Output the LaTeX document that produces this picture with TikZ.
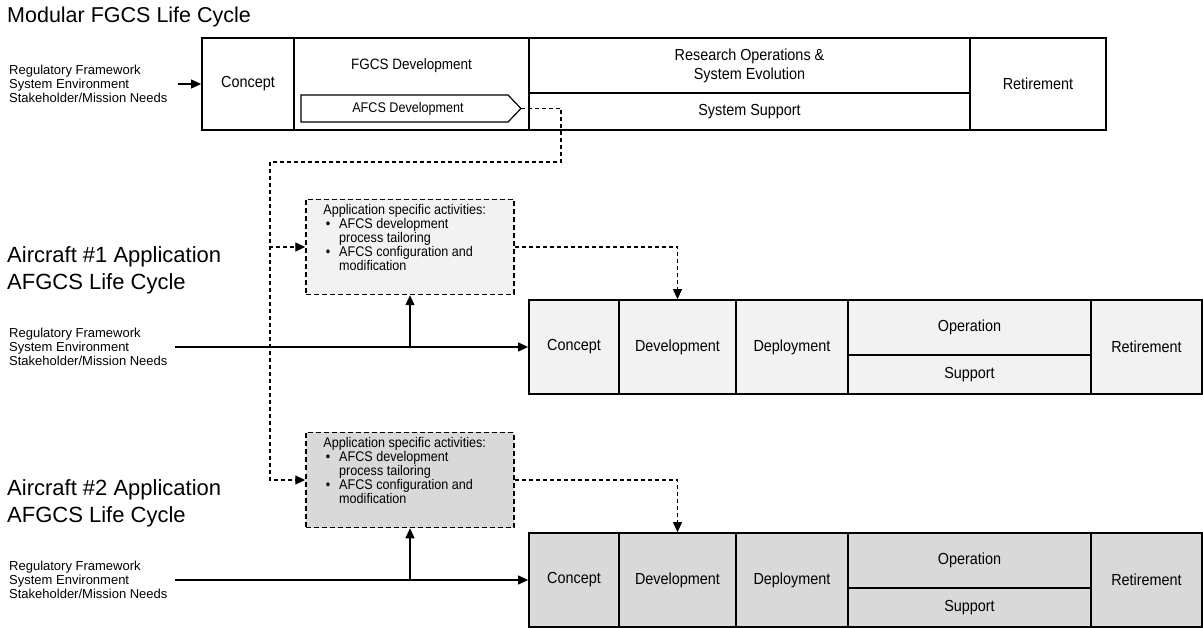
\documentclass[tikz,border=0pt]{standalone}
\usepackage{fontspec}
\setmainfont{Liberation Sans}
\newfontfamily\narrowfont[FakeStretch=0.9]{Liberation Sans}
\usetikzlibrary{arrows.meta,calc}
\begin{document}
\begin{tikzpicture}[x=1pt,y=-1pt,
  cell/.style={draw, line width=1.8pt, inner sep=0pt, align=center,
    font=\narrowfont\fontsize{16}{19}\selectfont},
  appbox/.style={draw, dashed, dash pattern=on 5pt off 3pt, line width=1.5pt,
    minimum width=208pt, minimum height=95pt, inner sep=0pt},
  apptext/.style={inner sep=0pt, anchor=north west, font=\narrowfont\fontsize{14}{13}\selectfont},
  inputs/.style={inner sep=0pt, anchor=west, align=left, font=\fontsize{13}{14.2}\selectfont},
  biglabel/.style={inner sep=0pt, anchor=west, align=left, font=\fontsize{22}{27}\selectfont},
  conn/.style={line width=1.2pt},
  dconn/.style={line width=1.1pt, dash pattern=on 4pt off 3pt},
  tri/.style={-{Triangle[length=10pt,width=9pt]}}]
\useasboundingbox (0,0) rectangle (1203,628);

% title
\node[biglabel, font=\fontsize{21.5}{24}\selectfont] (title) at (7,17) {Modular FGCS Life Cycle};

% modular FGCS life cycle
\node[cell, minimum width=92pt, minimum height=92pt] (tcon) at (248,84) {Concept};
\node[cell, minimum width=235pt, minimum height=92pt] (tdev) at (411.5,84) {};
\node[inner sep=0pt, font=\narrowfont\fontsize{15}{17}\selectfont] (tdevlabel) at (411.5,66) {FGCS Development};
\node[cell, minimum width=441pt, minimum height=55pt] (tops) at (749.5,65.5) {Research Operations \&\\System Evolution};
\node[cell, minimum width=441pt, minimum height=37pt] (tsup) at (749.5,111.5) {System Support};
\node[cell, minimum width=136pt, minimum height=92pt] (tret) at (1038,84) {Retirement};
\draw[line width=1.2pt] (301,95) -- (508,95) -- (521,108.5) -- (508,122) -- (301,122) -- cycle;
\node[inner sep=0pt, font=\narrowfont\fontsize{14}{15}\selectfont] (afcs) at (408,108.5) {AFCS Development};
\coordinate (afcstip) at (521,108.5);

\node[inputs] (in0) at (9,84) {Regulatory Framework\\System Environment\\Stakeholder/Mission Needs};
\coordinate (s0) at (178,84);
\draw[conn, tri] (s0) -- (tcon.west);

% application life cycles
\foreach \n/\cy/\fc in {1/347/black!5, 2/580/black!15} {
  \node[biglabel] (lab\n) at (7,\cy-77) {Aircraft \#\n{} Application\\AFGCS Life Cycle};
  \node[inputs] (in\n) at (9,\cy) {Regulatory Framework\\System Environment\\Stakeholder/Mission Needs};

  \node[cell, fill=\fc, minimum width=90pt, minimum height=94pt] (l\n-con) at (574,\cy) {Concept};
  \node[cell, fill=\fc, minimum width=117pt, minimum height=94pt] (l\n-dev) at (677.5,\cy) {Development};
  \node[cell, fill=\fc, minimum width=112pt, minimum height=94pt] (l\n-dep) at (792,\cy) {Deployment};
  \node[cell, fill=\fc, minimum width=243pt, minimum height=55pt] (l\n-op) at (969.5,\cy-19.5) {Operation};
  \node[cell, fill=\fc, minimum width=243pt, minimum height=39pt] (l\n-sup) at (969.5,\cy+27.5) {Support};
  \node[cell, fill=\fc, minimum width=111pt, minimum height=94pt] (l\n-ret) at (1146.5,\cy) {Retirement};

  \node[appbox, fill=\fc] (app\n) at (410,\cy-100) {};
  \node[apptext] (apptxt\n) at ($(app\n.north west)+(18,5)$) {%
    \begin{tabular}{@{}l@{\hspace{9pt}}l@{}}
    \multicolumn{2}{@{}l@{}}{Application specific activities:}\\
    \,\textbullet & AFCS development\\
     & process tailoring\\
    \,\textbullet & AFCS configuration and\\
     & modification
    \end{tabular}};

  \coordinate (s\n) at (175,\cy);
  \draw[conn, tri] (s\n) -- (l\n-con.west);
  \draw[conn, tri] (app\n.south |- l\n-con.west) -- (app\n.south);
  \draw[dconn, tri] (app\n.east) -| (l\n-dev.north);
}

% AFCS development feeds both application activities
\coordinate (split) at (270,162);
\draw[dconn] (afcstip) -- (561,108.5) |- (split);
\draw[dconn, tri] (split) |- (app1.west);
\draw[dconn, tri] (split) |- (app2.west);
\end{tikzpicture}
\end{document}
